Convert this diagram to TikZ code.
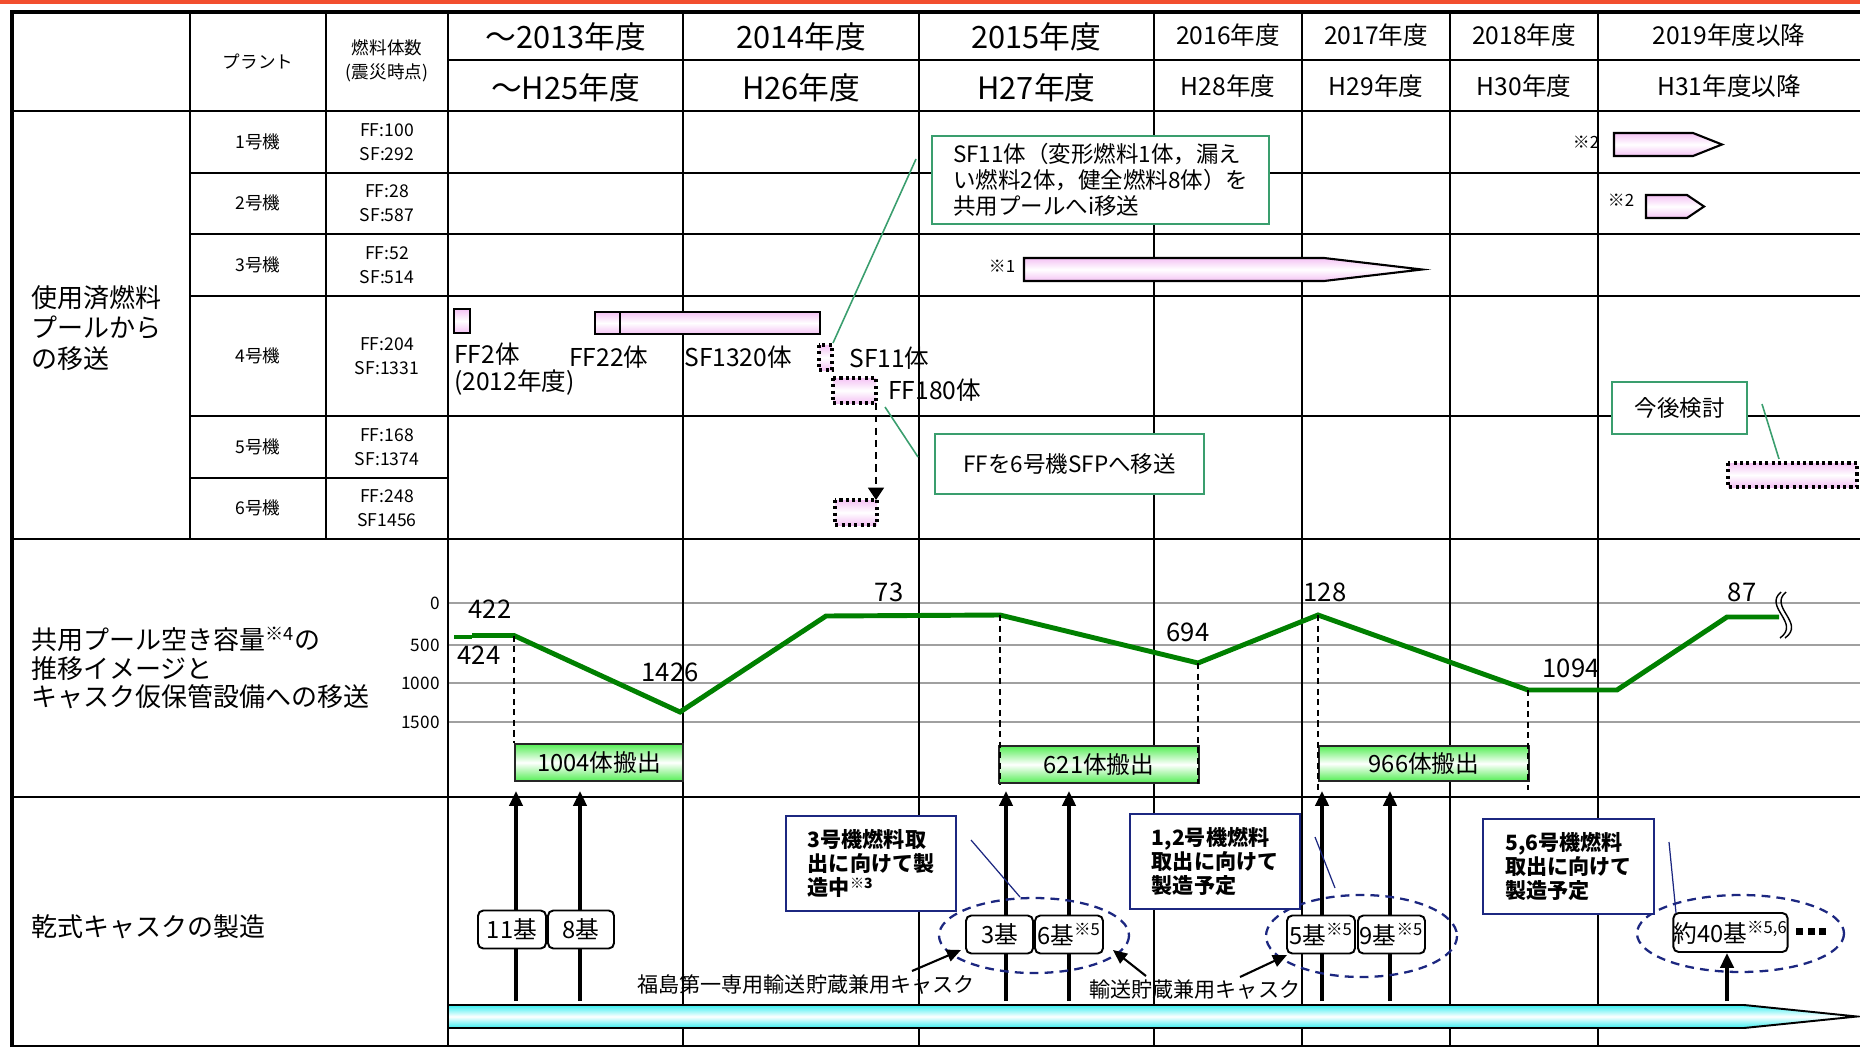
\documentclass[tikz,border=0pt]{standalone}
\usepackage{fontspec}
\setmainfont{Noto Sans CJK JP}
\usetikzlibrary{arrows.meta}

\definecolor{topred}{HTML}{F24E2E}
\definecolor{pinkc}{HTML}{F4C2F4}
\definecolor{greenc}{HTML}{55EE55}
\definecolor{cyanc}{HTML}{38EEF0}
\definecolor{notegreen}{HTML}{3A9E6E}
\definecolor{notenavy}{HTML}{1C2780}
\definecolor{chartgreen}{HTML}{008000}
\definecolor{gridgray}{HTML}{A0A0A0}

\begin{document}
\begin{tikzpicture}[
  x=0.02cm, y=-0.02cm,
  tbl/.style={line width=1.6pt},
  frame/.style={line width=2.8pt},
  txt/.style={inner sep=0pt},
  pinkbar/.style={draw=black, line width=1.2pt,
    top color=pinkc, bottom color=pinkc, middle color=white},
  dotbox/.style={draw=black, line width=1.8pt, dash pattern=on 1.8pt off 1.8pt,
    top color=pinkc, bottom color=pinkc, middle color=white},
  outbox/.style={draw=black!85, line width=1.2pt, font=\OutFont,
    top color=greenc, bottom color=greenc, middle color=white},
  cyanbar/.style={draw=black, line width=1.1pt,
    top color=cyanc, bottom color=cyanc, middle color=white},
  gnote/.style={draw=notegreen, line width=1.2pt, fill=white,
    align=left, anchor=north west, font=\NoteFont},
  bnote/.style={draw=notenavy, line width=1.3pt, fill=white,
    align=left, anchor=north west, font=\CalloutFont},
  gline/.style={draw=notegreen, line width=0.9pt},
  bline/.style={draw=notenavy, line width=0.7pt},
  kibox/.style={draw=black, line width=1.1pt, fill=white,
    rounded corners=3pt, inner sep=0pt, font=\KiFont},
  caskring/.style={draw=notenavy, line width=1.3pt, dash pattern=on 5pt off 3.5pt},
  caskarrow/.style={line width=2.3pt, -{Triangle[length=8.5pt, width=7.5pt]}},
  ptarrow/.style={line width=1.2pt, -{Triangle[length=8pt, width=7pt]}},
  movearrow/.style={line width=1.1pt, dash pattern=on 4pt off 3pt,
    -{Triangle[length=7pt, width=9pt]}},
  vdash/.style={line width=0.8pt, dash pattern=on 3.5pt off 2.5pt},
  capline/.style={draw=chartgreen, line width=2.8pt},
  gridline/.style={draw=gridgray, line width=1.2pt},
]
  \newcommand*{\PxLen}{0.02cm}
  \newcommand*{\HeadFont}{\fontsize{17.5}{20}\selectfont}
  \newcommand*{\SubHeadFont}{\fontsize{14}{16}\selectfont}
  \newcommand*{\SectionFont}{\fontsize{14.8}{17.6}\selectfont}
  \newcommand*{\TableFont}{\fontsize{10}{13.5}\selectfont}
  \newcommand*{\MarkFont}{\fontsize{9.6}{11}\selectfont}
  \newcommand*{\LabelFont}{\fontsize{14}{15.4}\selectfont}
  \newcommand*{\NoteFont}{\fontsize{12.8}{14.8}\selectfont}
  \newcommand*{\CalloutFont}{\fontsize{12}{13.7}\selectfont\bfseries}
  \newcommand*{\ValueFont}{\fontsize{14.6}{16}\selectfont}
  \newcommand*{\AxisFont}{\fontsize{9.8}{11}\selectfont}
  \newcommand*{\OutFont}{\fontsize{13.5}{15}\selectfont}
  \newcommand*{\KiFont}{\fontsize{13.5}{15}\selectfont}
  \newcommand*{\PointFont}{\fontsize{12}{14}\selectfont}
  \newcommand*{\NoteMark}[1]{\textsuperscript{※#1}}

  \useasboundingbox (0,0) rectangle (1860,1048);

  % Table grid, chart scale lines below it
  \fill[topred] (0,0) rectangle (1860,4);
  \foreach \y in {603,645,683,722}
    \draw[gridline] (448,\y) -- (1860,\y);
  \foreach \x in {448,683,919,1154,1302,1450,1598}
    \draw[tbl] (\x,12) -- (\x,1047);
  \foreach \x in {190,326}
    \draw[tbl] (\x,12) -- (\x,539);
  \draw[tbl] (448,60) -- (1860,60);
  \foreach \y in {111,539,797}
    \draw[tbl] (12,\y) -- (1860,\y);
  \foreach \y in {173,234,296,416}
    \draw[tbl] (190,\y) -- (1860,\y);
  \draw[tbl] (190,478) -- (448,478);
  \draw[tbl] (12,1046) -- (1860,1046);
  \draw[frame] (12,1047) -- (12,12) -- (1860,12);

  % Header: plant, fuel count, fiscal years
  \node[font=\TableFont] (plant) at (258,62) {プラント};
  \node[font=\TableFont, align=center] (fuel) at (387,61) {燃料体数\\(震災時点)};
  \foreach \cx/\ya/\yb [count=\i] in
    {565.5/～2013年度/～H25年度, 801/2014年度/H26年度, 1036.5/2015年度/H27年度} {
    \node[font=\HeadFont] (ya\i) at (\cx,37) {\ya};
    \node[font=\HeadFont] (yb\i) at (\cx,88) {\yb};
  }
  \foreach \cx/\ya/\yb [count=\i from 4] in
    {1228/2016年度/H28年度, 1376/2017年度/H29年度,
     1524/2018年度/H30年度, 1729/2019年度以降/H31年度以降} {
    \node[font=\SubHeadFont] (ya\i) at (\cx,35) {\ya};
    \node[font=\SubHeadFont] (yb\i) at (\cx,86) {\yb};
  }

  % Units and fuel at the time of the disaster
  \foreach \y/\ff/\sf [count=\i] in
    {142/FF:100/SF:292, 203/FF:28/SF:587, 265/FF:52/SF:514,
     356/FF:204/SF:1331, 447/FF:168/SF:1374, 508/FF:248/SF1456} {
    \node[font=\TableFont] (unit\i) at (258,\y) {\i 号機};
    \node[font=\TableFont, align=center] (fuel\i) at (387,\y) {\ff\\\sf};
  }

  % Row titles
  \node[font=\SectionFont, align=left, anchor=west, txt] (secpool) at (31,328)
    {使用済燃料\\プールから\\の移送};
  \node[font=\fontsize{14.8}{16.3}\selectfont, align=left, anchor=west, txt] (seccap) at (31,668)
    {共用プール空き容量\NoteMark{4}の\\推移イメージと\\キャスク仮保管設備への移送};
  \node[font=\SectionFont, anchor=west, txt] (seccask) at (31,927) {乾式キャスクの製造};

  % Removal from units 1 to 3
  \node[font=\MarkFont] (mark1) at (1586,142) {※2};
  \draw[pinkbar] (1614,133) -- (1693,133) -- (1722,144.5) -- (1693,156) -- (1614,156) -- cycle;
  \node[font=\MarkFont] (mark2) at (1621,200) {※2};
  \draw[pinkbar] (1646,195) -- (1687,195) -- (1704,206.5) -- (1687,218) -- (1646,218) -- cycle;
  \node[font=\MarkFont] (mark3) at (1002,266) {※1};
  \draw[pinkbar] (1024,258) -- (1324,258) -- (1422,269.5) -- (1324,281) -- (1024,281) -- cycle;

  % Removal from unit 4
  \draw[pinkbar] (454,309) rectangle (470,333);
  \draw[pinkbar] (595,312) rectangle (620,334);
  \draw[pinkbar] (620,312) rectangle (820,334);
  \draw[dotbox] (819,345) rectangle (832,370);
  \draw[dotbox] (833,378) rectangle (876,403) coordinate (ffb);
  \draw[dotbox] (835,500) coordinate (ffc) rectangle (877,525);
  \draw[dotbox] (1728,463) rectangle (1857,487);
  \draw[movearrow] (ffb) -- (ffb |- ffc);
  \node[font=\LabelFont, align=left, anchor=west, txt] (ff2) at (454,369.5) {FF2体\\(2012年度)};
  \node[font=\LabelFont, anchor=west, txt] (ff22) at (569,357) {FF22体};
  \node[font=\LabelFont, anchor=west, txt] (sf1320) at (684,357) {SF1320体};
  \node[font=\LabelFont, anchor=west, txt] (sf11) at (849,358) {SF11体};
  \node[font=\LabelFont, anchor=west, txt] (ff180) at (888,390) {FF180体};

  % Green notes
  \node[gnote, minimum width=337*\PxLen, minimum height=88*\PxLen] (sfnote) at (931,135)
    {SF11体（変形燃料1体，漏え\\い燃料2体，健全燃料8体）を\\共用プールへi移送};
  \node[gnote, minimum width=269*\PxLen, minimum height=60*\PxLen] (ffnote) at (934,433)
    {FFを6号機SFPへ移送};
  \node[gnote, minimum width=135*\PxLen, minimum height=52*\PxLen] (futnote) at (1611,381)
    {今後検討};
  \coordinate (sfpt) at (916,159);    \coordinate (sfend) at (833,343);
  \coordinate (ffpt) at (918,457);    \coordinate (ffend) at (885,407);
  \coordinate (futpt) at (1762,404);  \coordinate (futend) at (1779,459);
  \draw[gline] (sfpt) -- (sfend);
  \draw[gline] (ffpt) -- (ffend);
  \draw[gline] (futpt) -- (futend);

  % Free capacity of the common pool
  \foreach \v/\y in {0/603,500/645,1000/683,1500/722}
    \node[font=\AxisFont, anchor=east, txt] (axis\v) at (440,\y) {\v};
  \node[outbox, minimum width=168*\PxLen, minimum height=37*\PxLen] (out1) at (599,762.5) {1004体搬出};
  \node[outbox, minimum width=200*\PxLen, minimum height=37*\PxLen] (out2) at (1099,764.5) {621体搬出};
  \node[outbox, minimum width=210*\PxLen, minimum height=35*\PxLen] (out3) at (1424,763.5) {966体搬出};
  \draw[capline] (454,637) -- (472,637);
  \draw[capline] (472,635.5) -- (514,635.5) coordinate (c1) -- (680,712) -- (826,616)
    -- (1000,615) coordinate (c2) -- (1198,663) coordinate (c3) -- (1318,615) coordinate (c4)
    -- (1528,690) coordinate (c5) -- (1617,690) -- (1727,617) -- (1779,617);
  \draw[vdash] (c1) -- (c1 |- out1.north);
  \draw[vdash] (c2) -- (c2 |- out2.south);
  \draw[vdash] (c3) -- (c3 |- out2.south);
  \draw[vdash] (c4) -- ++(0,175);
  \draw[vdash] (c5) -- ++(0,100);
  \foreach \dx in {0,5}
    \draw[line width=0.8pt] (1781+\dx,592) .. controls (1763+\dx,607) and (1801+\dx,623) .. (1780+\dx,638);
  \foreach \t/\x/\y in {422/490/609, 424/479/655, 1426/670/672, 73/889/592,
                        694/1188/632, 128/1325/592, 1094/1571/668, 87/1742/592}
    \node[font=\ValueFont, txt] (val\t) at (\x,\y) {\t};

  % Dry cask manufacturing
  \draw[cyanbar] (448,1005) -- (1744,1005) -- (1857,1016.5) -- (1744,1028) -- (448,1028) -- cycle;
  \foreach \x [count=\i] in {516,580,1006,1069,1322,1390} {
    \coordinate (cb\i) at (\x,1001);
    \coordinate (ct\i) at (\x,791);
    \draw[caskarrow] (cb\i) -- (ct\i);
  }
  \draw[caskring] (1034,935.5) ellipse [x radius=95, y radius=37.5];
  \draw[caskring] (1361.5,936) ellipse [x radius=95.5, y radius=41];
  \draw[caskring] (1740.5,933.5) ellipse [x radius=103.5, y radius=38.5];
  \foreach \t/\x/\y/\w [count=\i] in
    {11基/512/929.5/68, 8基/581/929.5/66, 3基/999.5/934.5/67,
     6基\NoteMark{5}/1069/934.5/68, 5基\NoteMark{5}/1321/934.5/68,
     9基\NoteMark{5}/1391.5/934.5/67}
    \node[kibox, minimum width=\w*\PxLen, minimum height=38*\PxLen] (ki\i) at (\x,\y) {\t};
  \node[kibox, minimum width=113*\PxLen, minimum height=39*\PxLen] (ki7) at (1730.5,932.5)
    {約40基\NoteMark{5,6}};
  \coordinate (cb7) at (1727,1001);
  \draw[caskarrow] (cb7) -- (ki7.south -| cb7);
  \foreach \k in {0,1,2}
    \fill (1796+\k*11.5,928) rectangle ++(7,7);

  % Navy notes
  \node[bnote, minimum width=170*\PxLen, minimum height=95*\PxLen] (note3) at (785,815)
    {3号機燃料取\\出に向けて製\\造中\NoteMark{3}};
  \node[bnote, minimum width=170*\PxLen, minimum height=95*\PxLen] (note12) at (1129,813)
    {1,2号機燃料\\取出に向けて\\製造予定};
  \node[bnote, minimum width=171*\PxLen, minimum height=95*\PxLen] (note56) at (1482,818)
    {5,6号機燃料\\取出に向けて\\製造予定};
  \coordinate (n3a) at (971,840);    \coordinate (n3b) at (1020,897);
  \coordinate (n12a) at (1315,837);  \coordinate (n12b) at (1335,888);
  \coordinate (n56a) at (1669,842);  \coordinate (n56b) at (1676,913);
  \draw[bline] (n3a) -- (n3b);
  \draw[bline] (n12a) -- (n12b);
  \draw[bline] (n56a) -- (n56b);

  % Cask types
  \node[font=\PointFont, anchor=west, txt] (fukucask) at (637,985) {福島第一専用輸送貯蔵兼用キャスク};
  \node[font=\PointFont, anchor=west, txt] (tscask) at (1089,990) {輸送貯蔵兼用キャスク};
  \coordinate (fa) at (912,971);   \coordinate (fb) at (961,950);
  \coordinate (ta) at (1146,976);  \coordinate (tb) at (1113,950);
  \coordinate (tc) at (1240,977);  \coordinate (td) at (1287,955);
  \draw[ptarrow] (fa) -- (fb);
  \draw[ptarrow] (ta) -- (tb);
  \draw[ptarrow] (tc) -- (td);
\end{tikzpicture}
\end{document}
